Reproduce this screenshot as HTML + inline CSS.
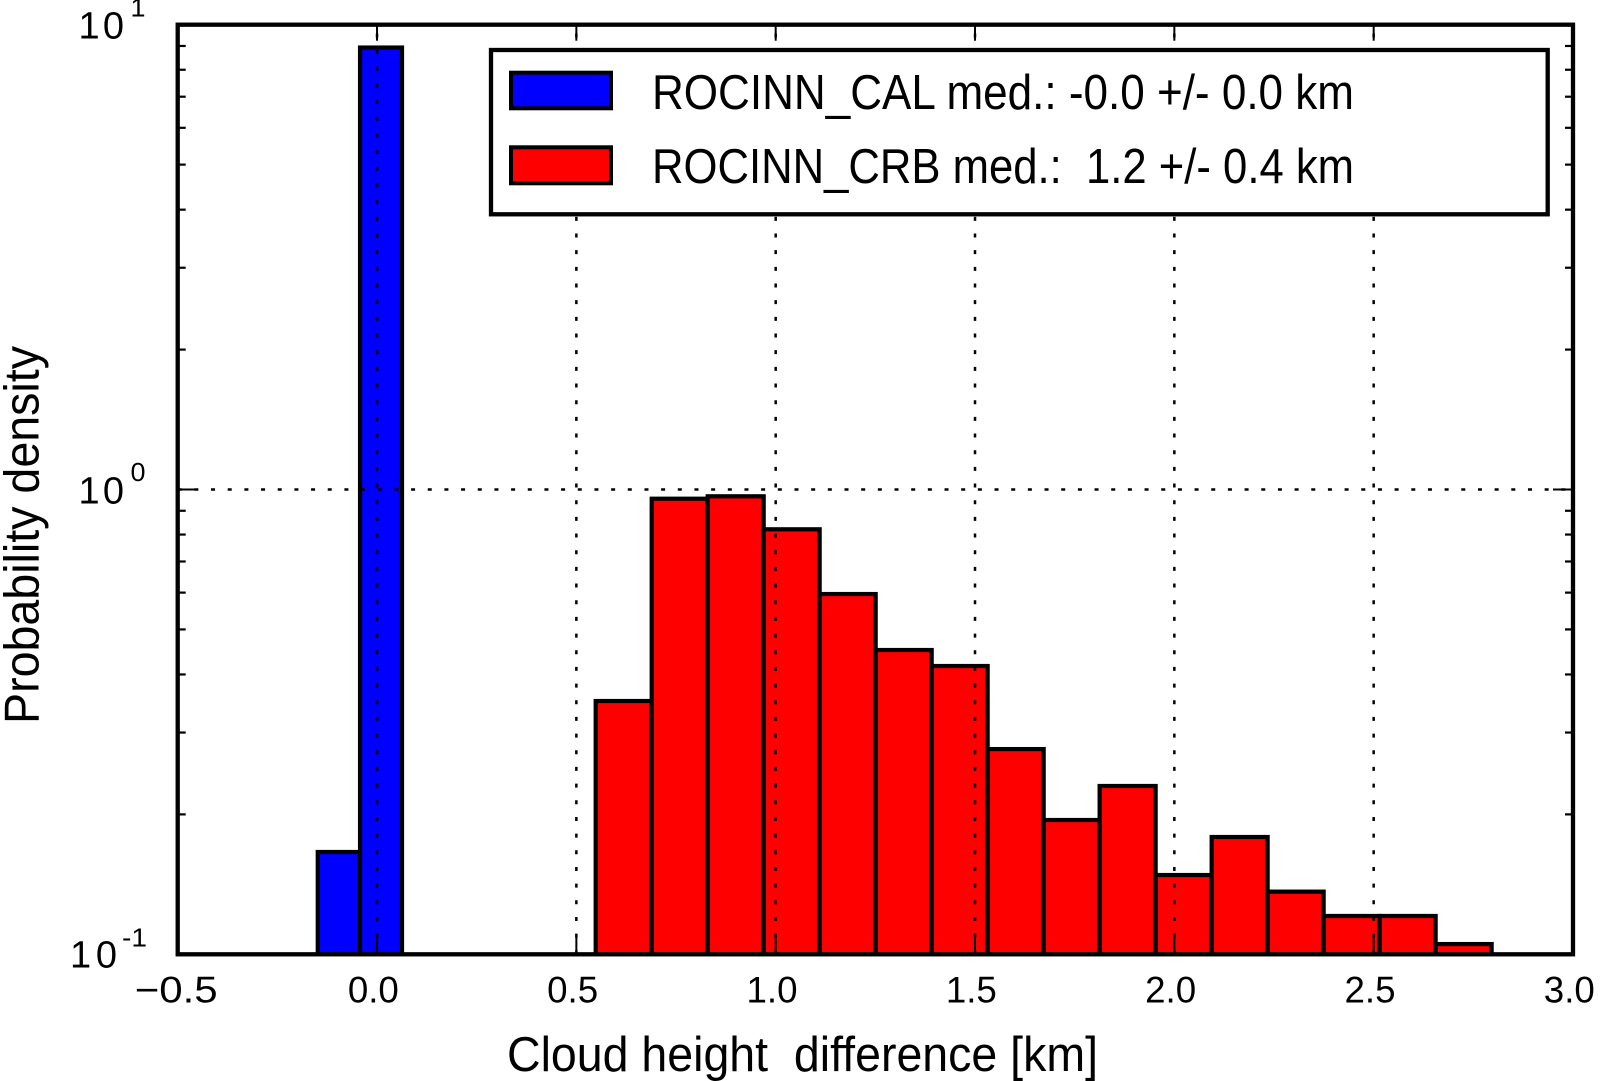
<!DOCTYPE html>
<html lang="en">
<head>
<meta charset="utf-8">
<title>Cloud height difference histogram</title>
<style>
html,body{margin:0;padding:0;background:#fff;width:1603px;height:1081px;overflow:hidden}
svg{display:block}
text{font-family:"Liberation Sans",sans-serif;fill:#000;white-space:pre}
</style>
</head>
<body>
<svg id="chart" xmlns="http://www.w3.org/2000/svg" width="1603" height="1081" viewBox="0 0 1603 1081"></svg>
<script>
const calEdges = [-0.1487, -0.0426, 0.0627];
const calValues = [0.166, 8.93];
const crbEdges = [0.5485, 0.6890, 0.8294, 0.9699, 1.1103, 1.2508, 1.3913, 1.5317, 1.6722, 1.8126, 1.9531, 2.0936, 2.2340, 2.3745, 2.5149, 2.6554, 2.7959];
const crbValues = [0.3507, 0.9554, 0.9669, 0.8211, 0.5958, 0.4515, 0.4171, 0.2764, 0.1945, 0.2302, 0.1481, 0.1788, 0.1364, 0.1209, 0.1209, 0.1052];
const xTicks = [-0.5, 0, 0.5, 1, 1.5, 2, 2.5, 3];
const xTickLabels = ["\u22120.5", "0.0", "0.5", "1.0", "1.5", "2.0", "2.5", "3.0"];
const yDecades = [-1, 0, 1];
const yDecadeLabels = ["-1", "0", "1"];
const yMinorMultipliers = [2, 3, 4, 5, 6, 7, 8, 9];
const legendLabels = ["ROCINN_CAL med.: -0.0 +/- 0.0 km", "ROCINN_CRB med.:  1.2 +/- 0.4 km"];

const L = 177.7, R = 1573, T = 24.7, B = 954.3;
const xMin = -0.5, xMax = 3, yMinExp = -1, yMaxExp = 1;
const x = v => L + (v - xMin) / (xMax - xMin) * (R - L);
const y = v => B - (Math.log10(v) - yMinExp) / (yMaxExp - yMinExp) * (B - T);

const NS = "http://www.w3.org/2000/svg";
const svg = document.getElementById("chart");
function make(tag, props, parent, content) {
  const e = document.createElementNS(NS, tag);
  for (const k in props) e.setAttribute(k, props[k]);
  if (content !== undefined) e.textContent = content;
  (parent || svg).appendChild(e);
  return e;
}

let el;
const defs = make("defs", {});
const clip = make("clipPath", {id: "plot-clip"}, defs);
make("rect", {x: L, y: T, width: R - L, height: B - T}, clip);

el = make("rect", {x: L, y: T, width: R - L, height: B - T, fill: "#fff"});



const barLayer = make("g", {"clip-path": "url(#plot-clip)"});



function drawBars(edges, values, color) {
  values.forEach((v, i) => {
    const left = x(edges[i]);
    const right = x(edges[i + 1]);
    const top = y(v);
    const bar = make("rect", {x: left, y: top, width: right - left, height: B + 10 - top, fill: color, stroke: "#000", "stroke-width": 4.2}, barLayer);
    
    
  });
}
drawBars(calEdges, calValues, "#0000ff");
drawBars(crbEdges, crbValues, "#ff0000");

const gridLayer = make("g", {stroke: "#000", "stroke-width": 2.5, "stroke-dasharray": "4 12.67", fill: "none"});


xTicks.slice(1, -1).forEach(v => {
  const line = make("line", {x1: x(v), x2: x(v), y1: B, y2: T}, gridLayer);
  
  
});
yDecades.slice(1, -1).forEach(d => {
  const line = make("line", {x1: L, x2: R, y1: y(Math.pow(10, d)), y2: y(Math.pow(10, d))}, gridLayer);
  
  
});

const tickLayer = make("g", {stroke: "#000", fill: "none"});


xTicks.forEach(v => {
  const bottomTick = make("line", {x1: x(v), x2: x(v), y1: B, y2: B - 20, "stroke-width": 2}, tickLayer);
  
  
  const topTick = make("line", {x1: x(v), x2: x(v), y1: T, y2: T + 16, "stroke-width": 2}, tickLayer);
  
  
});
yDecades.forEach(d => {
  const py = y(Math.pow(10, d));
  const leftTick = make("line", {x1: L, x2: L + 20, y1: py, y2: py, "stroke-width": 2}, tickLayer);
  
  
  const rightTick = make("line", {x1: R, x2: R - 20, y1: py, y2: py, "stroke-width": 2}, tickLayer);
  
  
  if (d < yMaxExp) {
    yMinorMultipliers.forEach(m => {
      const my = y(m * Math.pow(10, d));
      const minorLeft = make("line", {x1: L, x2: L + 8, y1: my, y2: my, "stroke-width": 2.2}, tickLayer);
      
      
      const minorRight = make("line", {x1: R, x2: R - 8, y1: my, y2: my, "stroke-width": 2.2}, tickLayer);
      
      
    });
  }
});

el = make("rect", {x: L, y: T, width: R - L, height: B - T, fill: "none", stroke: "#000", "stroke-width": 4.3});



xTicks.forEach((v, i) => {
  const label = xTickLabels[i];
  const wide = label.length > 3;
  const t = make("text", {x: x(v) - (wide ? 1.5 : 3.7), y: 1002.3, "font-size": 37, "text-anchor": "middle", textLength: wide ? 83 : 51, lengthAdjust: "spacingAndGlyphs"}, svg, label);
  
  
});

yDecades.forEach((d, i) => {
  const py = y(Math.pow(10, d));
  const neg = d < 0;
  const base = make("text", {x: neg ? 70 : 78.5, y: py + (neg ? 13.4 : 14), "font-size": 38, textLength: neg ? 47 : 45.5, lengthAdjust: "spacing"}, svg, "10");
  
  
  const sup = make("text", {x: neg ? 122 : 130.5, y: py - (neg ? 7.6 : 8.4), "font-size": 26, textLength: neg ? 25 : 15, lengthAdjust: "spacingAndGlyphs"}, svg, yDecadeLabels[i]);
  
  
});

el = make("text", {x: 507, y: 1071, "font-size": 49, textLength: 591, lengthAdjust: "spacingAndGlyphs"}, svg, "Cloud height  difference [km]");



el = make("text", {x: 0, y: 0, transform: "translate(38.5 724) rotate(-90)", "font-size": 49, textLength: 378, lengthAdjust: "spacingAndGlyphs"}, svg, "Probability density");



const legend = make("g", {});


el = make("rect", {x: 491, y: 50, width: 1056.7, height: 164.3, fill: "#fff", stroke: "#000", "stroke-width": 4.3}, legend);



el = make("rect", {x: 511, y: 72.7, width: 100, height: 35.6, fill: "#0000ff", stroke: "#000", "stroke-width": 4}, legend);


el = make("text", {x: 652, y: 108.8, "font-size": 49, textLength: 702, lengthAdjust: "spacingAndGlyphs"}, legend, legendLabels[0]);



el = make("rect", {x: 511, y: 147.3, width: 100, height: 36, fill: "#ff0000", stroke: "#000", "stroke-width": 4}, legend);


el = make("text", {x: 652, y: 183.2, "font-size": 49, textLength: 702, lengthAdjust: "spacingAndGlyphs"}, legend, legendLabels[1]);


</script>
</body>
</html>
